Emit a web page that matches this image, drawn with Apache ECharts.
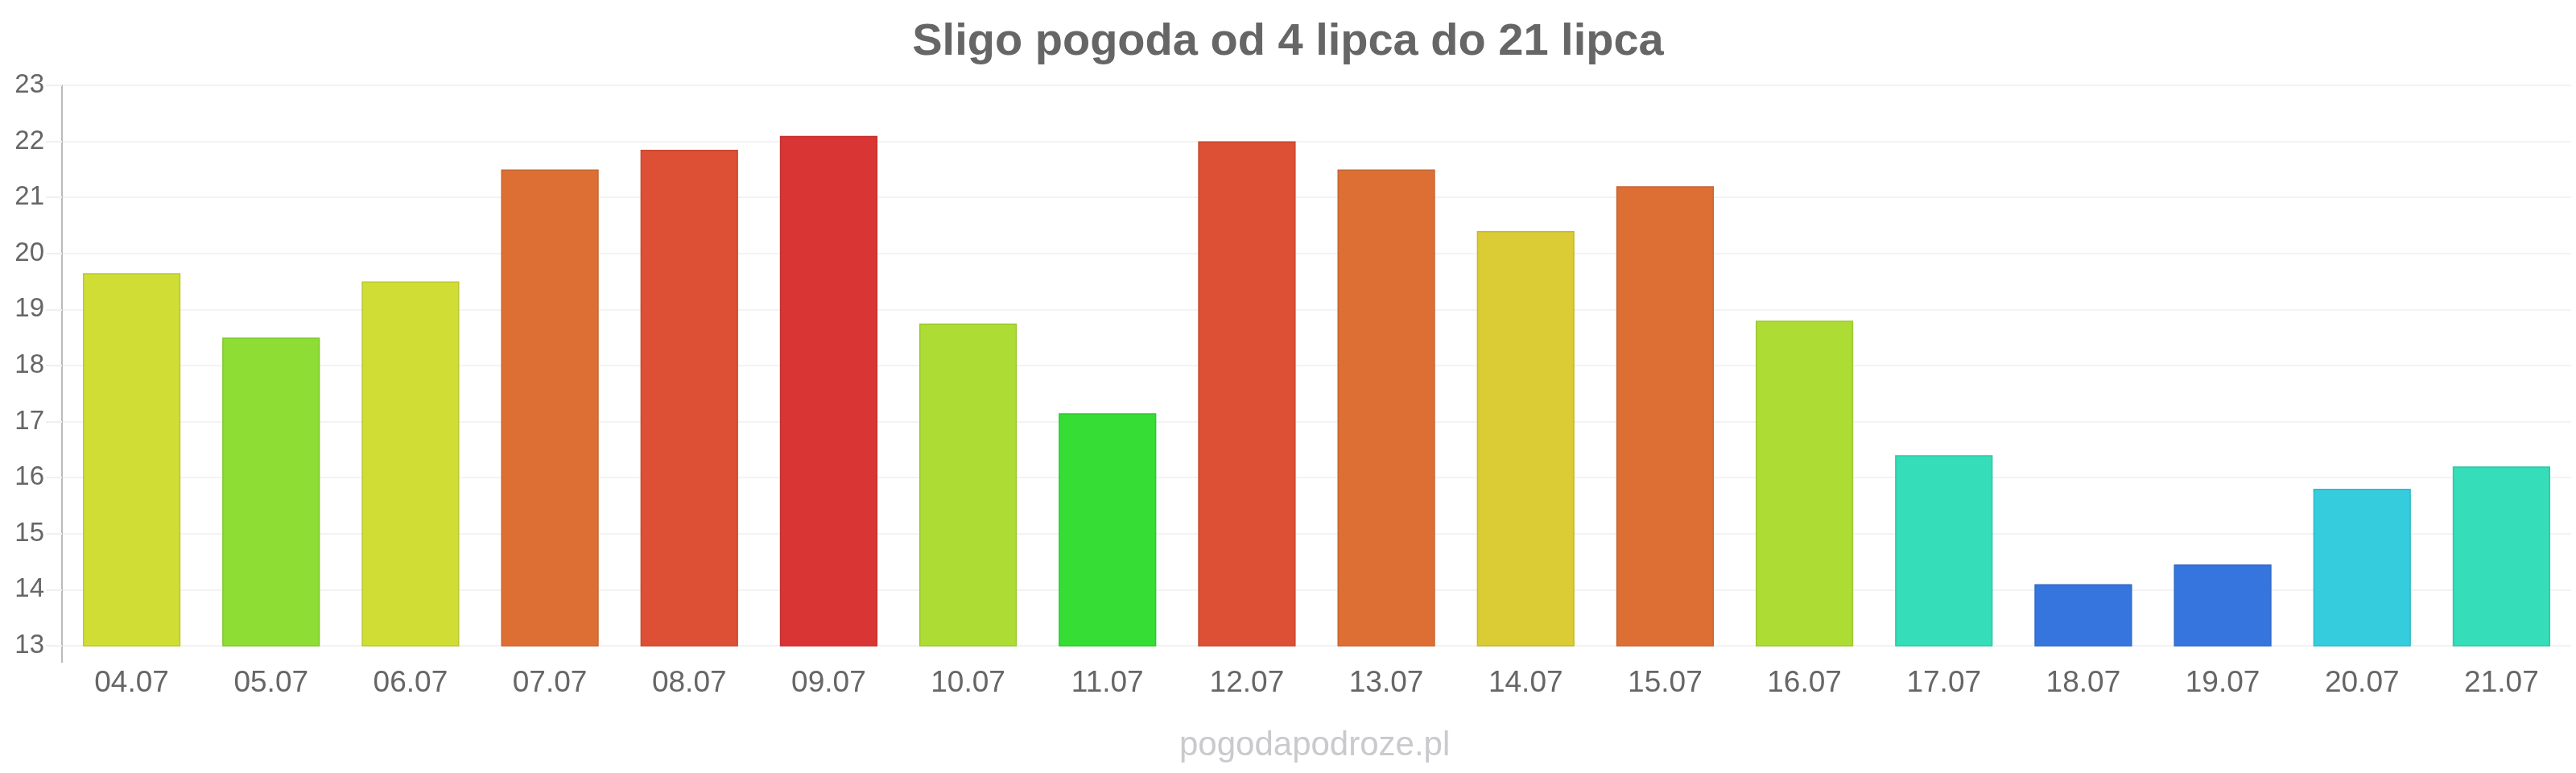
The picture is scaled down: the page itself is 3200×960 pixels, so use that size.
<!DOCTYPE html>
<html>
<head>
<meta charset="utf-8">
<title>Sligo pogoda</title>
<script src="https://cdn.jsdelivr.net/npm/echarts@6/dist/echarts.min.js"></script>
<style>
  html, body { margin: 0; padding: 0; background: #fff; }
  #chart { width: 3200px; height: 960px; }
</style>
</head>
<body>
<div id="chart"></div>
<script>
// days shown on the x axis
const days = ['04.07', '05.07', '06.07', '07.07', '08.07', '09.07', '10.07', '11.07', '12.07',
   '13.07', '14.07', '15.07', '16.07', '17.07', '18.07', '19.07', '20.07', '21.07'];

// temperature per day
const temps = [19.65, 18.5, 19.5, 21.5, 21.85, 22.1, 18.75, 17.15, 22.0,
   21.5, 20.4, 21.2, 18.8, 16.4, 14.1, 14.45, 15.8, 16.2];

// y axis range
const yMin = 13;
const yMax = 23;
const yStep = 1;

// bar fill per day (style only)
const barColors = ['#d0dd35', '#8ddd35', '#d0dd35', '#dd6f35', '#dd5035', '#da3535', '#addd35', '#35dd35', '#dd5035',
   '#dd6f35', '#dbcb35', '#dd6f35', '#addd35', '#35ddb8', '#3575dd', '#3575dd', '#35cddd', '#35ddb8'];

const font = 'Liberation Sans, Arial, sans-serif';
const grid = { left: 77, right: 6, top: 106, bottom: 158 };

const darken = (hex, k) => {
   const n = parseInt(hex.slice(1), 16)
   const r = Math.round(((n >> 16) & 255) * k)
   const g = Math.round(((n >> 8) & 255) * k)
   const b = Math.round((n & 255) * k)
   return 'rgb(' + r + ',' + g + ',' + b + ')'
}

const chart = echarts.init(document.getElementById('chart'))

const options = {
   backgroundColor: '#fff',
   animation: false,
   title: {
      text: 'Sligo pogoda od 4 lipca do 21 lipca',
      left: 'center',
      top: 20,
      textStyle: { color: '#666', fontSize: 56, fontWeight: 'bold', fontFamily: font }
   },
   graphic: [{
      // y axis line runs a little past the bottom of the plot
      type: 'line',
      shape: { x1: grid.left, y1: 960 - grid.bottom, x2: grid.left, y2: 960 - grid.bottom + 21 },
      style: { stroke: '#bbb', lineWidth: 2 }
   }, {
      type: 'text',
      left: 1637 - 172,
      top: 905,
      style: { text: 'pogodapodroze.pl', fill: '#cacace', fontSize: 42, fontFamily: font }
   }],
   grid: grid,
   xAxis: {
      type: 'category',
      data: days,
      axisLine: { show: false },
      axisTick: { show: false },
      axisLabel: { color: '#666', fontSize: 37, fontFamily: font, margin: 28 }
   },
   yAxis: {
      type: 'value',
      min: yMin,
      max: yMax,
      interval: yStep,
      axisLine: { show: true, lineStyle: { color: '#bbb', width: 2 } },
      axisTick: { show: true, length: 20, lineStyle: { color: '#f0f0f0', width: 2 } },
      axisLabel: { color: '#666', fontSize: 33, fontFamily: font, margin: 22 },
      splitLine: { show: true, lineStyle: { color: '#f3f3f3', width: 2 } }
   },
   series: [{
      type: 'bar',
      barCategoryGap: '30%',
      data: temps.map((v, i) => ({
         value: v,
         itemStyle: { color: barColors[i], borderColor: darken(barColors[i], 0.9), borderWidth: 1.5 }
      }))
   }]
}

chart.setOption(options)
</script>
</body>
</html>
